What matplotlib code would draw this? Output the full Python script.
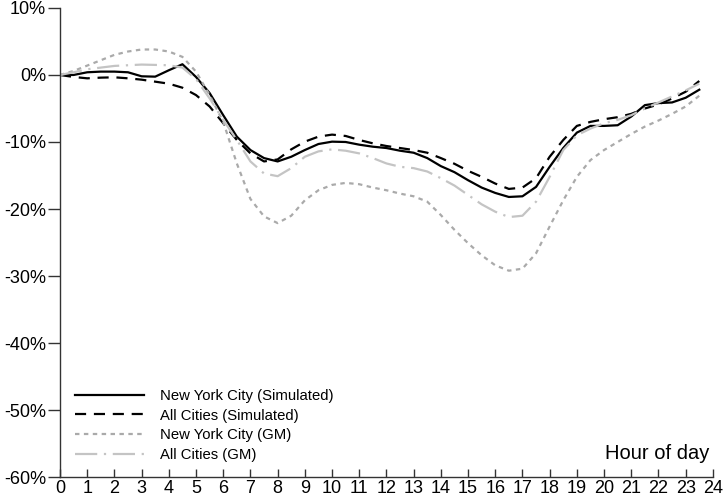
import numpy as np
import matplotlib.pyplot as plt

plt.rcParams['font.family'] = ['Liberation Sans', 'DejaVu Sans']

# Half-hour grid, 0 .. 23.5
hours = np.arange(0, 24, 0.5)

nyc_sim = [0.0, 0.0, 0.4, 0.5, 0.5, 0.4, -0.2, -0.25, 0.7, 1.6,
           -0.3, -2.7, -6.0, -9.2, -11.2, -12.4, -12.9, -12.2, -11.2, -10.3,
           -9.95, -10.0, -10.4, -10.7, -10.9, -11.3, -11.6, -12.4, -13.6, -14.5,
           -15.7, -16.8, -17.6, -18.2, -18.1, -16.7, -13.7, -10.9, -8.6, -7.6,
           -7.6, -7.5, -6.2, -4.5, -4.2, -4.1, -3.4, -2.2]

all_sim = [0.0, -0.3, -0.5, -0.4, -0.35, -0.5, -0.7, -1.0, -1.3, -1.9,
           -3.0, -4.7, -7.2, -9.7, -11.7, -12.9, -12.6, -11.1, -9.95, -9.2,
           -8.9, -9.1, -9.7, -10.2, -10.6, -10.9, -11.2, -11.6, -12.4, -13.25,
           -14.3, -15.2, -16.2, -17.0, -16.8, -15.4, -12.2, -9.7, -7.6, -7.0,
           -6.6, -6.3, -5.8, -5.0, -4.4, -3.5, -2.5, -0.9]

nyc_gm = [0.0, 0.6, 1.4, 2.2, 3.0, 3.5, 3.8, 3.8, 3.5, 2.7,
          0.5, -3.0, -7.0, -13.2, -18.5, -21.1, -22.1, -21.0, -18.7, -17.2,
          -16.4, -16.1, -16.3, -16.8, -17.2, -17.7, -18.1, -18.9, -20.9, -23.1,
          -25.1, -26.9, -28.4, -29.2, -28.9, -26.6, -22.6, -18.7, -15.2, -12.7,
          -11.2, -10.0, -8.8, -7.7, -6.8, -5.8, -4.7, -3.1]

all_gm = [0.0, 0.4, 0.85, 1.1, 1.35, 1.45, 1.55, 1.5, 1.45, 1.1,
          -0.6, -3.5, -6.7, -9.7, -12.9, -14.7, -15.1, -13.9, -12.2, -11.4,
          -11.1, -11.3, -11.7, -12.4, -13.2, -13.7, -13.9, -14.4, -15.4, -16.5,
          -17.9, -19.3, -20.4, -21.2, -21.0, -18.9, -15.2, -11.2, -9.0, -8.0,
          -7.2, -6.7, -6.0, -5.0, -4.1, -3.2, -2.3, -1.3]

series_labels = ['New York City (Simulated)', 'All Cities (Simulated)',
                 'New York City (GM)', 'All Cities (GM)']
y_ticks = list(range(-60, 11, 10))
x_ticks = list(range(0, 25))

fig = plt.figure(figsize=(7.23, 4.96), dpi=100)
ax = fig.add_axes([0.083, 0.038, 0.903, 0.946])

ax.plot(hours, nyc_sim, color='black', lw=1.6, ls='-', label=series_labels[0])
ax.plot(hours, all_sim, color='black', lw=1.6, ls=(0, (5, 3.5)), label=series_labels[1])
ax.plot(hours, nyc_gm, color='#aaaaaa', lw=1.6, ls=(0, (2, 2)), label=series_labels[2])
ax.plot(hours, all_gm, color='#c4c4c4', lw=1.6, ls=(0, (10, 3, 1, 3)), label=series_labels[3])

ax.set_xlim(0, 24)
ax.set_ylim(-60, 10)
ax.set_xticks(x_ticks)
ax.set_xticklabels([str(t) for t in x_ticks], fontsize=13)
ax.set_yticks(y_ticks)
ax.set_yticklabels([f'{t}%' for t in y_ticks], fontsize=13)
ax.tick_params(axis='x', direction='in', length=6, width=1, pad=2, color='#333333')
ax.tick_params(axis='y', direction='out', length=9, width=1, pad=1, color='#333333')

for s in ['top', 'right']:
    ax.spines[s].set_visible(False)
for s in ['left', 'bottom']:
    ax.spines[s].set_color('#333333')
    ax.spines[s].set_linewidth(1.0)

ax.text(0.995, 0.051, 'Hour of day', transform=ax.transAxes, ha='right',
        va='center', fontsize=14.5)

ax.legend(loc='lower left', bbox_to_anchor=(0.003, 0.004), frameon=False,
          fontsize=10.7, handlelength=4.6, handletextpad=1.1, labelspacing=0.38)

fig.savefig('out.png', dpi=100)
